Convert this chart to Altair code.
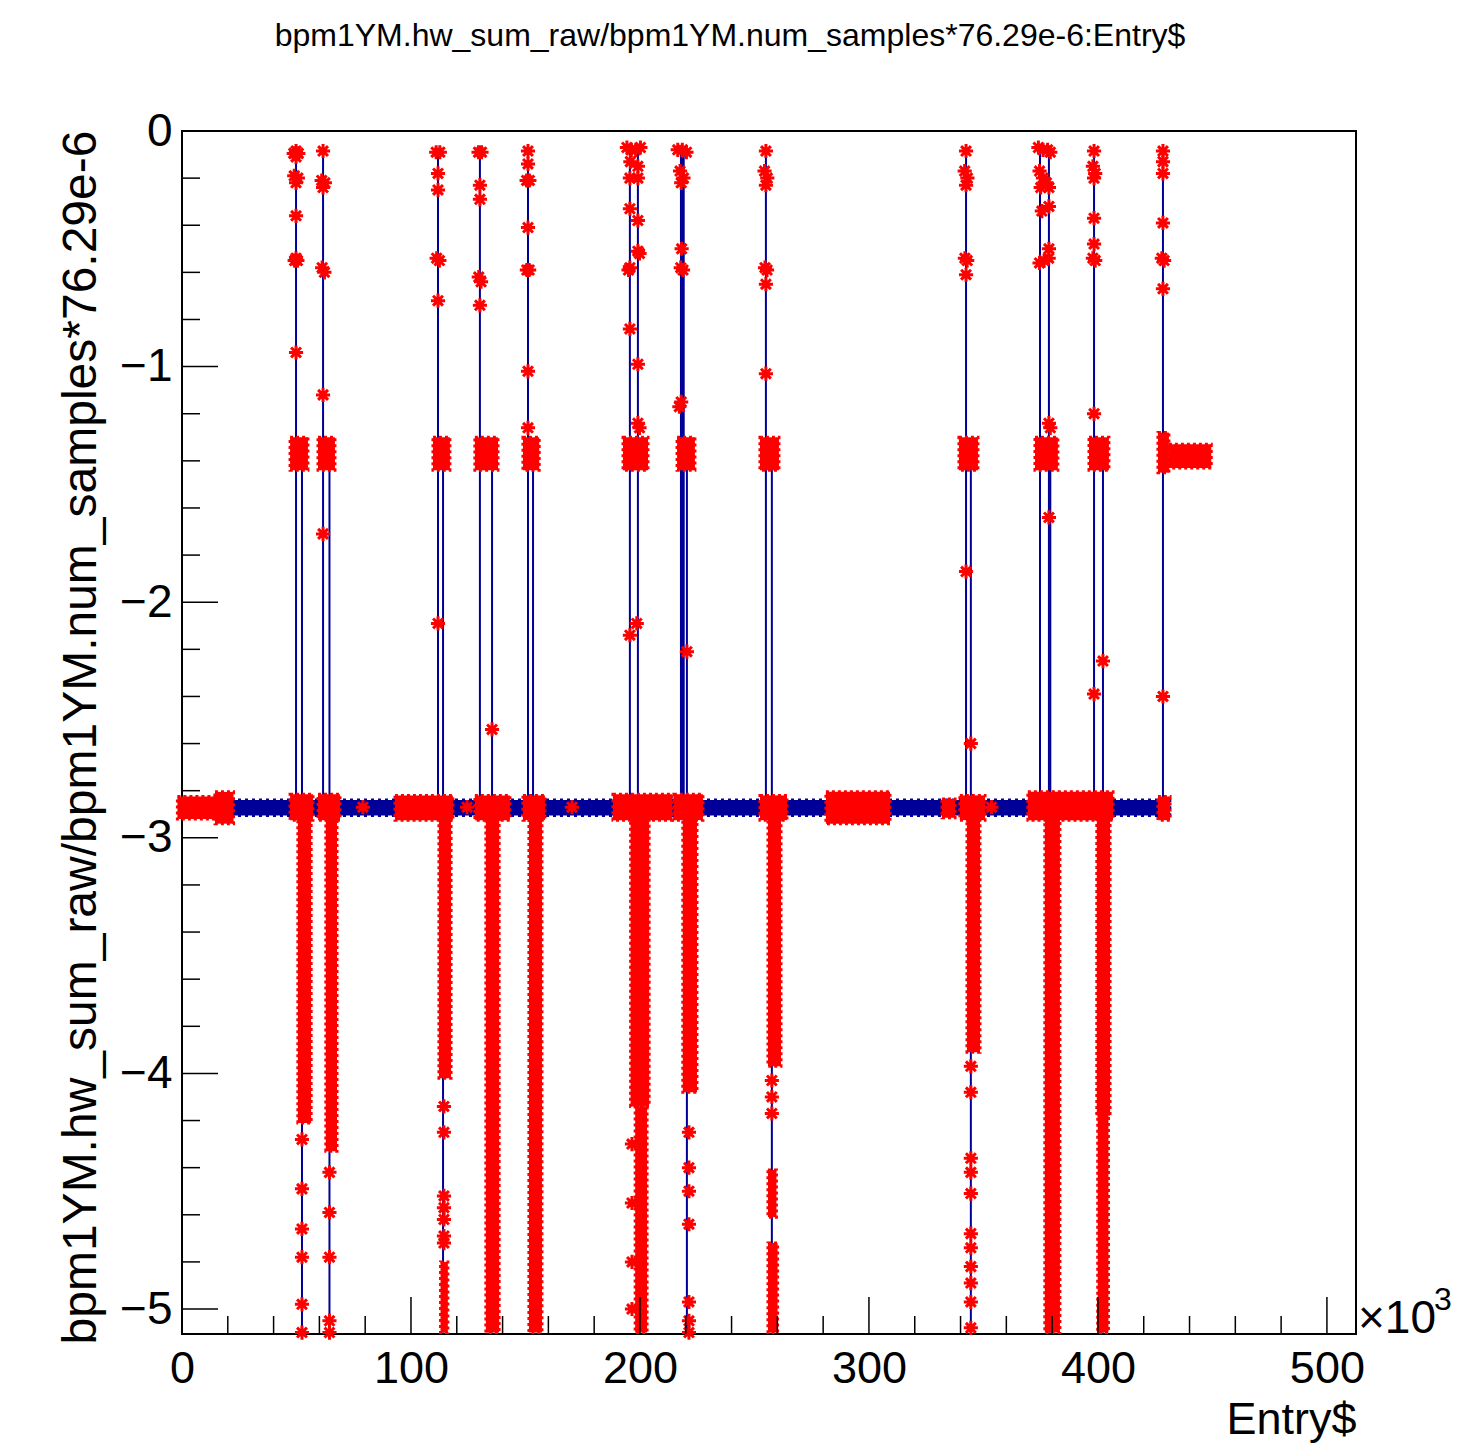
import altair as alt
import pandas as pd

FONT = "Liberation Sans"
BLUE = "#000099"
RED = "#ff0000"

TITLE = "bpm1YM.hw_sum_raw/bpm1YM.num_samples*76.29e-6:Entry$"
Y_TITLE = "bpm1YM.hw_sum_raw/bpm1YM.num_samples*76.29e-6"
X_TITLE = "Entry$"
X_EXP = ["×10", "3"]

# axis ranges (x in thousands of entries)
X_DOMAIN = [0.0, 512.7]
Y_DOMAIN = [-5.106, 0.0]

x_major = [0, 100, 200, 300, 400, 500]
x_minor = [20, 40, 60, 80, 120, 140, 160, 180, 220, 240, 260, 280,
           320, 340, 360, 380, 420, 440, 460, 480]
y_major = [-5, -4, -3, -2, -1, 0]
y_minor = [-4.8, -4.6, -4.4, -4.2, -3.8, -3.6, -3.4, -3.2, -2.8, -2.6,
           -2.4, -2.2, -1.8, -1.6, -1.4, -1.2, -0.8, -0.6, -0.4, -0.2]

# dense blue baseline band
band_x0 = [0.0]
band_x1 = [431.4]
band_y0 = [-2.905]
band_y1 = [-2.84]

# blue vertical line segments (graph line jumping between levels)
vline_x = [49.8, 52.4, 61.6, 64.4, 111.8, 114.0, 130.1, 135.4, 151.1, 153.3,
           195.6, 199.1, 217.9, 218.5, 219.1, 220.5, 255.0, 257.6, 342.4, 344.5,
           374.7, 378.6, 379.2, 398.3, 402.2, 428.4]
vline_top = [-0.085, -1.38, -0.085, -1.38, -0.085, -1.38, -0.085, -1.38, -0.085, -1.38,
             -0.085, -0.085, -0.085, -0.085, -0.085, -1.38, -0.085, -1.38, -0.085, -1.38,
             -0.085, -0.085, -1.38, -0.085, -1.38, -0.085]
vline_bot = [-2.87, -5.10, -2.87, -5.10, -2.87, -5.10, -2.87, -5.10, -2.87, -5.10,
             -2.87, -5.10, -2.87, -2.87, -2.87, -5.10, -2.87, -5.10, -2.87, -5.10,
             -2.87, -5.10, -5.10, -2.87, -5.10, -2.87]

# dense red marker clusters (plateau, baseline and downward clusters)
blob_x0 = [47.2, 59.4, 109.6, 127.9, 148.9, 192.6, 216.2, 252.4, 339.3, 372.5, 396.1, 426.2, 431.0,
           -2.0, 14.4, 47.2, 59.4, 93.0, 127.9, 148.9, 188.2, 214.8, 252.4, 281.2, 331.9, 339.7,
           369.4, 426.2,
           50.6, 62.8, 112.2, 112.9, 132.7, 151.5, 195.9, 197.9, 218.7, 255.9, 255.9, 255.9,
           342.8, 376.8, 399.5, 399.9]
blob_x1 = [55.0, 66.8, 117.0, 138.0, 156.0, 203.5, 224.0, 260.7, 347.6, 382.5, 404.8, 431.0, 449.5,
           14.4, 22.5, 57.2, 69.0, 118.3, 143.2, 158.5, 214.0, 227.5, 264.2, 309.2, 337.6, 350.7,
           406.6, 431.5,
           56.4, 67.7, 117.5, 116.1, 138.5, 157.2, 204.0, 203.1, 224.9, 261.6, 259.6, 260.1,
           348.5, 383.4, 405.3, 404.6]
blob_y0 = [-1.44, -1.44, -1.44, -1.44, -1.44, -1.44, -1.44, -1.44, -1.44, -1.44, -1.44, -1.45, -1.43,
           -2.92, -2.94, -2.925, -2.925, -2.925, -2.925, -2.925, -2.925, -2.925, -2.925, -2.94, -2.915, -2.925,
           -2.925, -2.925,
           -4.21, -4.33, -4.02, -5.10, -5.10, -5.10, -4.14, -5.10, -4.08, -3.97, -4.61, -5.10,
           -3.91, -5.10, -4.18, -5.10]
blob_y1 = [-1.30, -1.30, -1.30, -1.30, -1.30, -1.30, -1.30, -1.30, -1.30, -1.30, -1.30, -1.28, -1.33,
           -2.825, -2.805, -2.815, -2.815, -2.82, -2.82, -2.82, -2.815, -2.815, -2.82, -2.805, -2.835, -2.82,
           -2.805, -2.825,
           -2.87, -2.87, -2.87, -4.80, -2.87, -2.87, -2.87, -4.14, -2.87, -2.87, -4.41, -4.72,
           -2.87, -2.87, -2.87, -4.18]

# individual red asterisk markers
mk_x = [
    # event ~50k
    49.8, 48.8, 50.8, 49.8, 49.0, 50.6, 49.8, 49.8, 49.8, 49.2, 50.4, 49.8,
    # ~62k
    61.6, 61.0, 62.4, 61.6, 61.2, 62.2, 61.6, 61.6,
    # ~112k
    111.0, 112.6, 111.8, 111.8, 111.2, 112.4, 111.8, 111.8,
    # ~130k
    129.5, 130.8, 130.1, 130.1, 129.6, 130.6, 130.1, 135.4,
    # ~151k
    151.1, 151.1, 150.5, 151.7, 151.1, 150.6, 151.6, 151.1, 151.1,
    # ~196k
    194.3, 196.2, 198.2, 200.2, 195.8, 199.1, 195.6, 199.1, 195.6, 199.1, 199.1, 199.8,
    195.6, 195.0, 195.6, 199.1, 199.1, 199.8, 195.6, 198.6,
    # ~218k
    216.5, 218.5, 220.3, 217.5, 219.0, 218.0, 218.2, 217.8, 218.8, 218.0, 217.2, 220.5,
    # ~255k
    255.0, 254.4, 255.6, 255.0, 254.6, 255.5, 255.0, 255.0,
    # ~342k
    342.4, 341.8, 343.0, 342.4, 341.9, 342.9, 342.4, 342.4, 344.5,
    # ~375k
    374.0, 376.0, 378.0, 379.2, 374.5, 376.0, 377.5, 378.6, 375.0, 378.6, 375.5, 378.6,
    374.5, 376.5, 378.5, 378.6, 379.2, 378.6,
    # ~398k
    398.3, 397.8, 398.8, 398.3, 398.3, 398.3, 397.8, 398.8, 398.3, 398.3, 402.2,
    # ~428k
    428.4, 428.4, 428.4, 428.4, 427.9, 428.9, 428.4, 428.4,
    # isolated points on the baseline
    79.0, 124.5, 170.3, 353.5,
    # sparse points in the lower tails
    52.4, 52.4, 52.4, 52.4, 52.4, 52.4,
    64.4, 64.4, 64.4, 64.4, 64.4,
    114.4, 114.4, 114.4, 114.4, 114.4, 114.4, 114.4,
    196.5, 196.5, 196.5, 196.5,
    221.4, 221.4, 221.4, 221.4, 221.4, 221.4, 221.4,
    257.6, 257.6, 257.6,
    344.5, 344.5, 344.5, 344.5, 344.5, 344.5, 344.5, 344.5, 344.5, 344.5, 344.5,
]
mk_y = [
    -0.085, -0.095, -0.095, -0.11, -0.19, -0.20, -0.22, -0.36, -0.54, -0.55, -0.55, -0.94,
    -0.085, -0.21, -0.22, -0.24, -0.58, -0.60, -1.12, -1.71,
    -0.09, -0.09, -0.18, -0.25, -0.54, -0.55, -0.72, -2.09,
    -0.09, -0.09, -0.23, -0.29, -0.62, -0.64, -0.74, -2.54,
    -0.085, -0.14, -0.21, -0.21, -0.41, -0.59, -0.59, -1.02, -1.26,
    -0.07, -0.08, -0.08, -0.07, -0.13, -0.15, -0.20, -0.20, -0.33, -0.38, -0.51, -0.52,
    -0.58, -0.59, -0.84, -0.99, -1.24, -1.26, -2.14, -2.09,
    -0.08, -0.08, -0.09, -0.17, -0.20, -0.22, -0.50, -0.58, -0.59, -1.15, -1.17, -2.21,
    -0.085, -0.17, -0.20, -0.23, -0.58, -0.59, -0.65, -1.03,
    -0.085, -0.17, -0.20, -0.23, -0.54, -0.55, -0.61, -1.87, -2.60,
    -0.07, -0.08, -0.08, -0.09, -0.17, -0.20, -0.22, -0.24, -0.24, -0.32, -0.34, -0.50,
    -0.56, -0.55, -0.54, -1.24, -1.26, -1.64,
    -0.085, -0.15, -0.18, -0.20, -0.37, -0.48, -0.54, -0.55, -1.20, -2.39, -2.25,
    -0.085, -0.13, -0.18, -0.39, -0.54, -0.55, -0.67, -2.40,
    -2.87, -2.87, -2.87, -2.87,
    -4.28, -4.49, -4.66, -4.78, -4.98, -5.10,
    -4.42, -4.59, -4.78, -5.05, -5.10,
    -4.14, -4.25, -4.52, -4.57, -4.62, -4.69, -4.72,
    -4.30, -4.55, -4.80, -5.00,
    -4.25, -4.40, -4.50, -4.64, -4.97, -5.05, -5.10,
    -4.03, -4.10, -4.17,
    -3.97, -4.08, -4.36, -4.42, -4.51, -4.68, -4.74, -4.82, -4.89, -4.97, -5.08,
]

W, H = 1174, 1203
ASTERISK = "M-1,0L1,0M0,-1L0,1M-0.7,-0.7L0.7,0.7M-0.7,0.7L0.7,-0.7"

xs = alt.Scale(domain=X_DOMAIN, nice=False, zero=False)
ys = alt.Scale(domain=Y_DOMAIN, nice=False, zero=False)

x_axis = alt.Axis(values=x_major, format="d", title=X_TITLE, grid=False, ticks=False,
                  domain=False, labelFont=FONT, labelFontSize=45, labelColor="black",
                  labelPadding=12, labelFlush=False, labelOverlap=False,
                  titleFont=FONT, titleFontSize=45, titleFontWeight="normal",
                  titleColor="black", titleX=W, titleY=99, titleAlign="right",
                  titleBaseline="alphabetic")
y_axis = alt.Axis(values=y_major, format="d", title=Y_TITLE, grid=False, ticks=False,
                  domain=False, labelFont=FONT, labelFontSize=46, labelColor="black",
                  labelPadding=10, labelFlush=False, labelOverlap=False,
                  titleFont=FONT, titleFontSize=48, titleFontWeight="normal",
                  titleColor="black", titleAngle=270, titleX=-87, titleY=606,
                  titleAlign="center", titleBaseline="alphabetic")


def X(field):
    return alt.X(field, scale=xs, axis=x_axis, title=X_TITLE)


def Y(field):
    return alt.Y(field, scale=ys, axis=y_axis, title=Y_TITLE)


band_df = pd.DataFrame({"x0": band_x0, "x1": band_x1, "y0": band_y0, "y1": band_y1})
band = alt.Chart(band_df).mark_rect(color=BLUE, stroke=BLUE, strokeWidth=3,
                                    strokeDash=[3, 4]).encode(
    x=X("x0:Q"), x2="x1:Q", y=Y("y0:Q"), y2="y1:Q")

vl_df = pd.DataFrame({"x0": vline_x, "y0": vline_top, "y1": vline_bot})
vlines = alt.Chart(vl_df).mark_rule(color=BLUE, strokeWidth=2).encode(
    x=X("x0:Q"), y=Y("y0:Q"), y2="y1:Q")

blob_df = pd.DataFrame({"x0": blob_x0, "x1": blob_x1, "y0": blob_y0, "y1": blob_y1})
blobs = alt.Chart(blob_df).mark_rect(color=RED, stroke=RED, strokeWidth=3,
                                     strokeDash=[3, 3]).encode(
    x=X("x0:Q"), x2="x1:Q", y=Y("y0:Q"), y2="y1:Q")

mk_df = pd.DataFrame({"x0": mk_x, "y0": mk_y})
markers = alt.Chart(mk_df).mark_point(shape=ASTERISK, size=200, filled=False,
                                      stroke=RED, strokeWidth=3, opacity=1).encode(
    x=X("x0:Q"), y=Y("y0:Q"))

xt_major = alt.Chart(pd.DataFrame({"x0": x_major})).mark_rule(color="black", strokeWidth=1.5).encode(
    x=X("x0:Q"), y=alt.value(H), y2=alt.value(H - 37))
xt_minor = alt.Chart(pd.DataFrame({"x0": x_minor})).mark_rule(color="black", strokeWidth=1.5).encode(
    x=X("x0:Q"), y=alt.value(H), y2=alt.value(H - 18))
yt_major = alt.Chart(pd.DataFrame({"y0": y_major})).mark_rule(color="black", strokeWidth=1.5).encode(
    y=Y("y0:Q"), x=alt.value(0), x2=alt.value(36))
yt_minor = alt.Chart(pd.DataFrame({"y0": y_minor})).mark_rule(color="black", strokeWidth=1.5).encode(
    y=Y("y0:Q"), x=alt.value(0), x2=alt.value(18))

title = alt.Chart(pd.DataFrame({"t": [TITLE]})).mark_text(
    font=FONT, fontSize=32, align="center", baseline="alphabetic", color="black").encode(
    text="t:N", x=alt.value(548), y=alt.value(-85))
exp_base = alt.Chart(pd.DataFrame({"t": [X_EXP[0]]})).mark_text(
    font=FONT, fontSize=46, align="left", baseline="alphabetic", color="black").encode(
    text="t:N", x=alt.value(1176), y=alt.value(1202))
exp_sup = alt.Chart(pd.DataFrame({"t": [X_EXP[1]]})).mark_text(
    font=FONT, fontSize=32, align="left", baseline="alphabetic", color="black").encode(
    text="t:N", x=alt.value(1252), y=alt.value(1179))

chart = alt.layer(band, vlines, blobs, markers, xt_major, xt_minor, yt_major, yt_minor,
                  title, exp_base, exp_sup).properties(
    width=W, height=H,
    autosize=alt.AutoSizeParams(type="none"),
    padding={"left": 174, "top": 123, "right": 108, "bottom": 110},
    background="white",
).configure_view(stroke="black", strokeWidth=2)

chart.save("out.html", embed_options={"renderer": "svg", "actions": False})
